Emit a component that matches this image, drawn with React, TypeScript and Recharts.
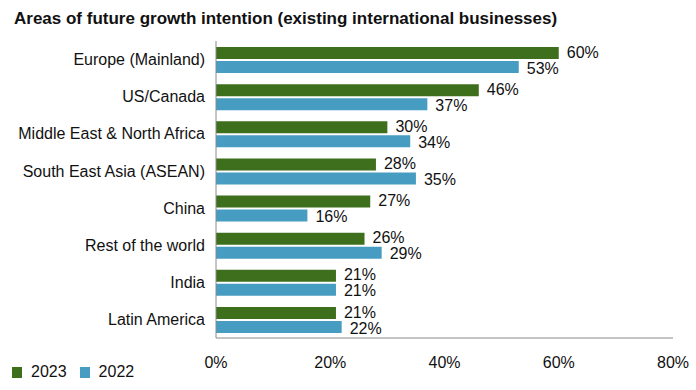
import React from "react";
import {
  Bar,
  BarChart,
  LabelList,
  XAxis,
  YAxis,
} from "recharts";

const regions = [
  "Europe (Mainland)",
  "US/Canada",
  "Middle East & North Africa",
  "South East Asia (ASEAN)",
  "China",
  "Rest of the world",
  "India",
  "Latin America",
];
const values2023 = [60, 46, 30, 28, 27, 26, 21, 21];
const values2022 = [53, 37, 34, 35, 16, 29, 21, 22];
const xTicks = [0, 20, 40, 60, 80];

const GREEN = "#3e6f1c";
const BLUE = "#479dc1";
const FONT = '"Liberation Sans", Arial, sans-serif';

const series = [
  { key: "y2023", name: "2023", color: GREEN, dy: -1 },
  { key: "y2022", name: "2022", color: BLUE, dy: 1 },
];

const data = regions.map((name, i) => ({
  name,
  y2023: values2023[i],
  y2022: values2022[i],
}));

function ChartLegend() {
  return (
    <div
      style={{
        position: "absolute",
        left: 12,
        top: 363,
        display: "flex",
        fontFamily: FONT,
        fontSize: 16,
        color: "#111",
      }}
    >
      {series.map((s) => (
        <div key={s.key} style={{ display: "flex", alignItems: "center", marginRight: 13 }}>
          <span
            style={{
              display: "inline-block",
              width: 10,
              height: 11,
              background: s.color,
              marginRight: 9,
            }}
          />
          <span>{s.name}</span>
        </div>
      ))}
    </div>
  );
}

export default function App() {
  return (
    <div
      style={{
        position: "absolute",
        left: 0,
        top: 0,
        width: 696,
        height: 390,
        background: "#fff",
      }}
    >
      <div
        style={{
          position: "absolute",
          left: 14,
          top: 9,
          fontFamily: FONT,
          fontWeight: "bold",
          fontSize: 17,
          color: "#111",
          whiteSpace: "nowrap",
        }}
      >
        Areas of future growth intention (existing international businesses)
      </div>
      <BarChart
        width={696}
        height={390}
        data={data}
        layout="vertical"
        margin={{ top: 41, right: 23, left: 0, bottom: 22 }}
        barGap={2}
        barCategoryGap={11}
      >
        <XAxis
          type="number"
          domain={[0, 80]}
          ticks={xTicks}
          tickFormatter={(v) => `${v}%`}
          axisLine={{ stroke: "#8a8a8a" }}
          tickLine={false}
          tickMargin={13}
          height={30}
          tick={{ fontSize: 16, fill: "#111", fontFamily: FONT }}
        />
        <YAxis
          type="category"
          dataKey="name"
          width={216}
          axisLine={{ stroke: "#8a8a8a" }}
          tickLine={false}
          tickMargin={5}
          tick={{ fontSize: 16, fill: "#111", fontFamily: FONT }}
        />
        {series.map((s) => (
          <Bar
            key={s.key}
            dataKey={s.key}
            name={s.name}
            fill={s.color}
            barSize={12}
            isAnimationActive={false}
          >
            <LabelList
              dataKey={s.key}
              position="right"
              offset={8}
              dy={s.dy}
              formatter={(v: any) => `${v}%`}
              style={{ fontSize: 16, fill: "#111", fontFamily: FONT }}
            />
          </Bar>
        ))}
      </BarChart>
      <ChartLegend />
    </div>
  );
}
